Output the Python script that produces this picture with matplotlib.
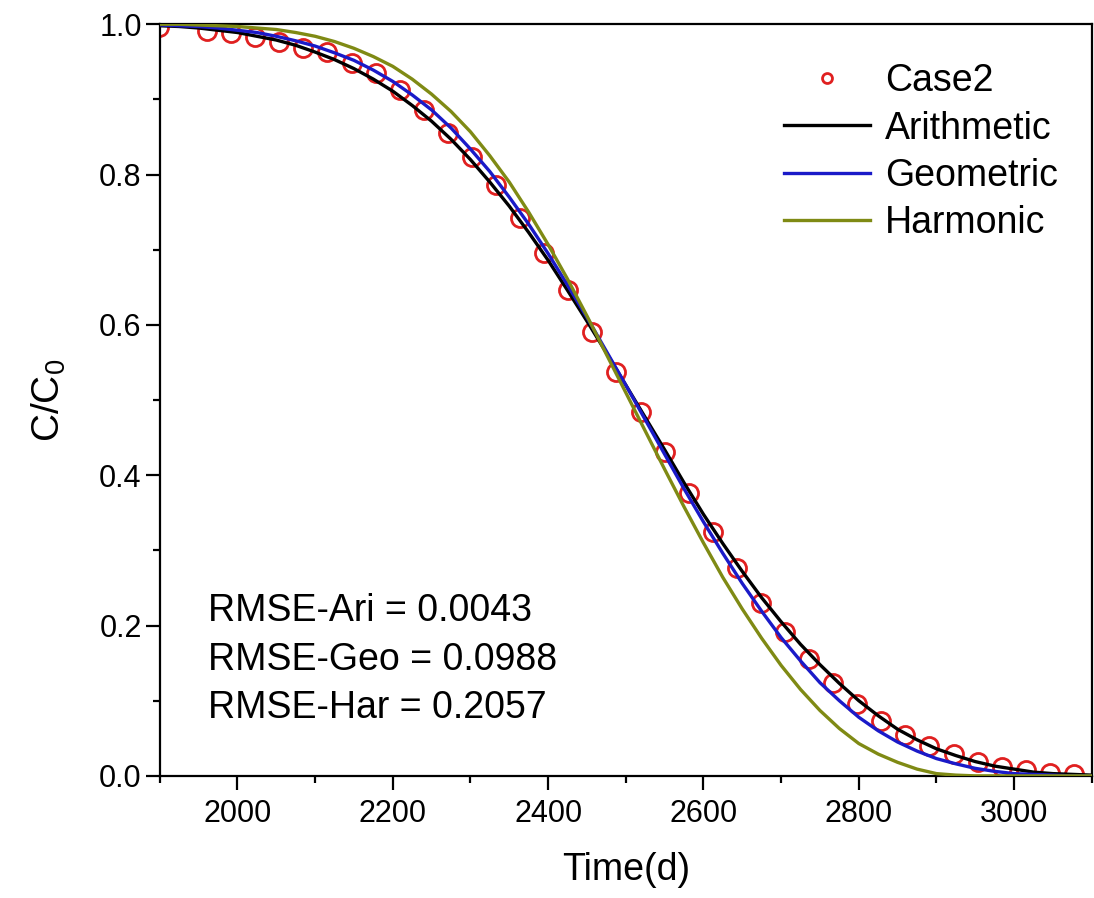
import matplotlib
matplotlib.use("Agg")
import matplotlib.pyplot as plt
from matplotlib.ticker import MultipleLocator, FormatStrFormatter

plt.rcParams['font.family'] = ['Liberation Sans', 'DejaVu Sans']
plt.rcParams['mathtext.fontset'] = 'custom'
plt.rcParams['mathtext.rm'] = 'Liberation Sans'
plt.rcParams['mathtext.it'] = 'Liberation Sans'

# observed breakthrough (Case2)
obs_t = [1899, 1961, 1992, 2023, 2054, 2085, 2116, 2147, 2178, 2209, 2240,
         2271, 2302, 2333, 2364, 2395, 2426, 2457, 2488, 2519, 2550, 2581,
         2612, 2643, 2674, 2705, 2736, 2767, 2798, 2829, 2860, 2891, 2922,
         2953, 2984, 3015, 3046, 3077]
obs_c = [0.996, 0.991, 0.988, 0.983, 0.976, 0.969, 0.963, 0.949, 0.935, 0.912,
         0.886, 0.855, 0.823, 0.786, 0.742, 0.695, 0.646, 0.590, 0.537, 0.484,
         0.431, 0.376, 0.324, 0.277, 0.230, 0.191, 0.156, 0.124, 0.096, 0.073,
         0.055, 0.040, 0.029, 0.019, 0.012, 0.008, 0.004, 0.003]

# model curves, read every 25 days
t = [1900, 1925, 1950, 1975, 2000, 2025, 2050, 2075, 2100, 2125, 2150, 2175,
     2200, 2225, 2250, 2275, 2300, 2325, 2350, 2375, 2400, 2425, 2450, 2475,
     2500, 2525, 2550, 2575, 2600, 2625, 2650, 2675, 2700, 2725, 2750, 2775,
     2800, 2825, 2850, 2875, 2900, 2925, 2950, 2975, 3000, 3025, 3050, 3075,
     3100]
ari = [0.998, 0.997, 0.995, 0.992, 0.989, 0.984, 0.979, 0.972, 0.963, 0.953,
       0.941, 0.927, 0.911, 0.892, 0.871, 0.847, 0.820, 0.790, 0.758, 0.723,
       0.686, 0.646, 0.605, 0.563, 0.520, 0.477, 0.434, 0.390, 0.348, 0.309,
       0.272, 0.237, 0.205, 0.175, 0.148, 0.123, 0.100, 0.080, 0.062, 0.048,
       0.036, 0.027, 0.019, 0.013, 0.009, 0.005, 0.003, 0.002, 0.001]
geo = [0.999, 0.998, 0.997, 0.995, 0.992, 0.989, 0.984, 0.978, 0.971, 0.962,
       0.952, 0.939, 0.924, 0.906, 0.886, 0.862, 0.834, 0.804, 0.770, 0.734,
       0.695, 0.653, 0.610, 0.565, 0.520, 0.474, 0.428, 0.382, 0.338, 0.296,
       0.256, 0.219, 0.184, 0.153, 0.124, 0.100, 0.078, 0.060, 0.045, 0.033,
       0.023, 0.016, 0.010, 0.006, 0.003, 0.002, 0.001, 0.000, 0.000]
har = [1.000, 1.000, 0.999, 0.998, 0.997, 0.995, 0.993, 0.989, 0.984, 0.977,
       0.968, 0.957, 0.944, 0.927, 0.907, 0.884, 0.857, 0.825, 0.790, 0.750,
       0.707, 0.661, 0.612, 0.561, 0.510, 0.459, 0.408, 0.358, 0.310, 0.264,
       0.222, 0.183, 0.147, 0.115, 0.087, 0.063, 0.043, 0.029, 0.018, 0.009,
       0.003, 0.001, 0.000, 0.000, 0.000, 0.000, 0.000, 0.000, 0.000]

rmse_lines = ["RMSE-Ari = 0.0043", "RMSE-Geo = 0.0988", "RMSE-Har = 0.2057"]

fig = plt.figure(figsize=(10.94, 8.98), dpi=100)
ax = fig.add_axes([0.146, 0.136, 0.852, 0.837])

ax.plot(obs_t, obs_c, 'o', mfc='none', mec='#e02020', ms=13, mew=2,
        label='Case2', zorder=2)
ax.plot(t, ari, color='black', lw=2.4, label='Arithmetic', zorder=3)
ax.plot(t, geo, color='#1a1ac8', lw=2.4, label='Geometric', zorder=3)
ax.plot(t, har, color='#7f8a14', lw=2.4, label='Harmonic', zorder=3)

ax.set_xlim(1900, 3100)
ax.set_ylim(0, 1.0)
ax.xaxis.set_major_locator(MultipleLocator(200))
ax.xaxis.set_minor_locator(MultipleLocator(100))
ax.yaxis.set_major_locator(MultipleLocator(0.2))
ax.yaxis.set_minor_locator(MultipleLocator(0.1))
ax.yaxis.set_major_formatter(FormatStrFormatter('%.1f'))
ax.tick_params(which='major', direction='out', length=10, width=1.6)
ax.tick_params(which='minor', direction='out', length=5, width=1.6)
ax.tick_params(axis='x', labelsize=22, pad=7)
ax.tick_params(axis='y', labelsize=22, pad=3)
for s in ax.spines.values():
    s.set_linewidth(1.6)

ax.set_xlabel('Time(d)', fontsize=27, labelpad=16)
ax.set_ylabel('C/C$_0$', fontsize=28, labelpad=22)

for i, line in enumerate(rmse_lines):
    ax.text(0.0515, 0.219 - i * 0.0645, line, transform=ax.transAxes,
            fontsize=27, va='center', ha='left')

ax.legend(loc='upper right', bbox_to_anchor=(1.0, 0.993), frameon=False,
          fontsize=27, markerscale=0.55, handlelength=2.3, handletextpad=0.4,
          labelspacing=0.3, borderaxespad=0.5)

fig.savefig('out.png', dpi=100)
